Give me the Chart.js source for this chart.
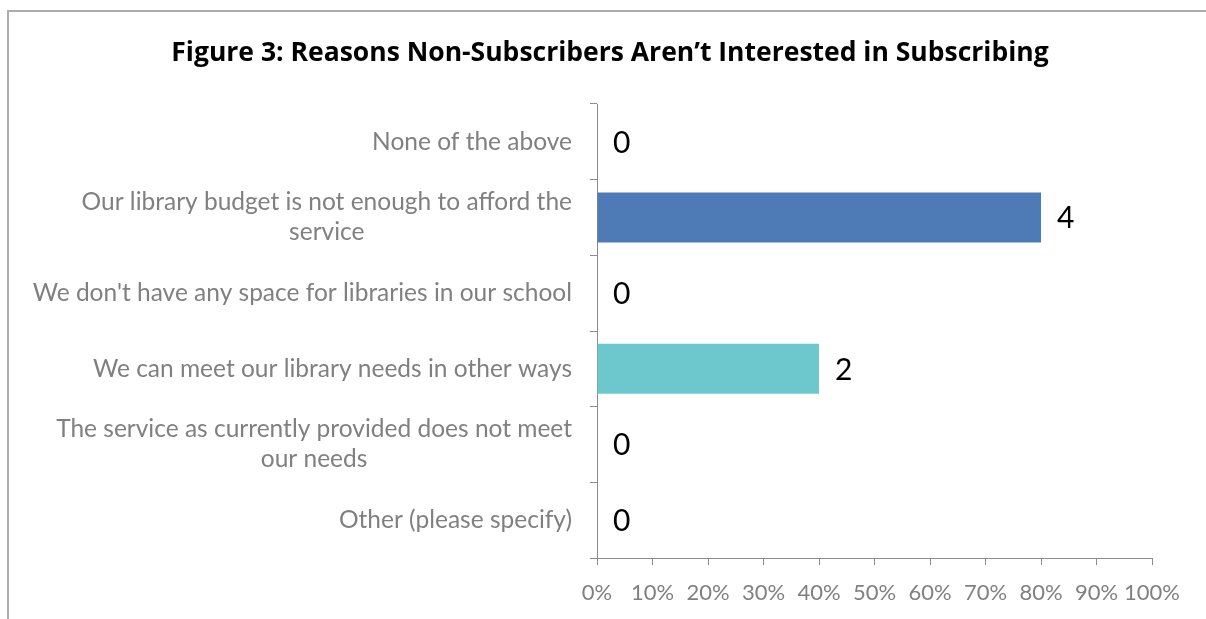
<!DOCTYPE html>
<html>
<head>
<meta charset="utf-8">
<script src="https://cdn.jsdelivr.net/npm/chart.js@4"></script>
<style>
  html, body { margin: 0; padding: 0; background: #fff; }
  #wrap { position: relative; width: 1206px; height: 619px; overflow: hidden; }
  #frame {
    position: absolute; left: 7px; top: 10px; right: -10px; bottom: -10px;
    border-left: 2px solid #adadad; border-top: 2px solid #adadad;
  }
  #bar { position: absolute; left: 0; top: 0; }
</style>
</head>
<body>
<div id="wrap">
  <div id="frame"></div>
  <canvas id="bar" width="1206" height="619"></canvas>
</div>
<script>
const chartTitle = 'Figure 3: Reasons Non-Subscribers Aren\u2019t Interested in Subscribing'
const reasons = [
  'None of the above',
  ['Our library budget is not enough to afford the', 'service'],
  "We don't have any space for libraries in our school",
  'We can meet our library needs in other ways',
  ['The service as currently provided does not meet', 'our needs'],
  'Other (please specify)'
]
const counts = [0, 4, 0, 2, 0, 0]
const respondents = 5
const xTicks = [0, 10, 20, 30, 40, 50, 60, 70, 80, 90, 100]
const barColors = ['#9bbb59', '#4e7ab5', '#8064a2', '#6cc8cc', '#f79646', '#c0504d']

const shares = counts.map(c => c / respondents * 100)

const labelFont = '24.5px Lato'
const countFont = '30px Lato'

// title centred over the whole frame, not just the plot
const frameTitle = {
  id: 'frameTitle',
  afterDraw(chart) {
    const ctx = chart.ctx
    ctx.save()
    ctx.font = 'bold 26.5px "Open Sans"'
    ctx.fillStyle = '#000'
    ctx.textAlign = 'center'
    ctx.textBaseline = 'middle'
    ctx.fillText(chartTitle, 610, 53)
    ctx.restore()
  }
}

// category names drawn left of the axis: right aligned block, wrapped lines centred in it
const categoryLabels = {
  id: 'categoryLabels',
  afterDraw(chart) {
    const ctx = chart.ctx
    const yScale = chart.scales.y
    const right = chart.chartArea.left - 25
    const lineH = 30
    ctx.save()
    ctx.font = labelFont
    ctx.fillStyle = '#808080'
    ctx.textBaseline = 'middle'
    ctx.textAlign = 'center'
    reasons.forEach((name, i) => {
      const lines = Array.isArray(name) ? name : [name]
      const widest = Math.max(...lines.map(l => ctx.measureText(l).width))
      const cx = right - widest / 2
      const y0 = yScale.getPixelForValue(i) - (lines.length - 1) * lineH / 2
      lines.forEach((l, k) => ctx.fillText(l, cx, y0 + k * lineH))
    })
    ctx.restore()
  }
}

// respondent counts at the end of each bar
const countLabels = {
  id: 'countLabels',
  afterDatasetsDraw(chart) {
    const ctx = chart.ctx
    const meta = chart.getDatasetMeta(0)
    ctx.save()
    ctx.font = countFont
    ctx.fillStyle = '#000'
    ctx.textAlign = 'left'
    ctx.textBaseline = 'middle'
    meta.data.forEach((bar, i) => {
      ctx.fillText(String(counts[i]), bar.x + 16, bar.y + 1)
    })
    ctx.restore()
  }
}

new Chart(document.getElementById('bar').getContext('2d'), {
  type: 'bar',
  data: {
    labels: reasons,
    datasets: [{
      data: shares,
      backgroundColor: barColors,
      barPercentage: 0.66,
      categoryPercentage: 1
    }]
  },
  options: {
    indexAxis: 'y',
    responsive: false,
    animation: false,
    layout: { padding: { left: 0, right: 54, top: 104, bottom: 6 } },
    plugins: {
      legend: { display: false },
      tooltip: { enabled: false },
      title: { display: false }
    },
    scales: {
      x: {
        min: 0,
        max: 100,
        afterBuildTicks: axis => { axis.ticks = xTicks.map(v => ({ value: v })) },
        afterFit: axis => { axis.height = 55 },
        ticks: {
          color: '#808080',
          font: { family: 'Lato', size: 22 },
          padding: 15,
          maxRotation: 0,
          autoSkip: false,
          callback: v => v + '%'
        },
        grid: { drawOnChartArea: false, tickLength: 7, color: '#8c8c8c' },
        border: { display: true, color: '#8c8c8c', width: 1 }
      },
      y: {
        afterFit: axis => { axis.width = 597 },
        ticks: { display: false },
        grid: { drawOnChartArea: false, tickLength: 7, color: '#8c8c8c', offset: true },
        border: { display: true, color: '#8c8c8c', width: 1 }
      }
    }
  },
  plugins: [frameTitle, categoryLabels, countLabels]
})
</script>
</body>
</html>
